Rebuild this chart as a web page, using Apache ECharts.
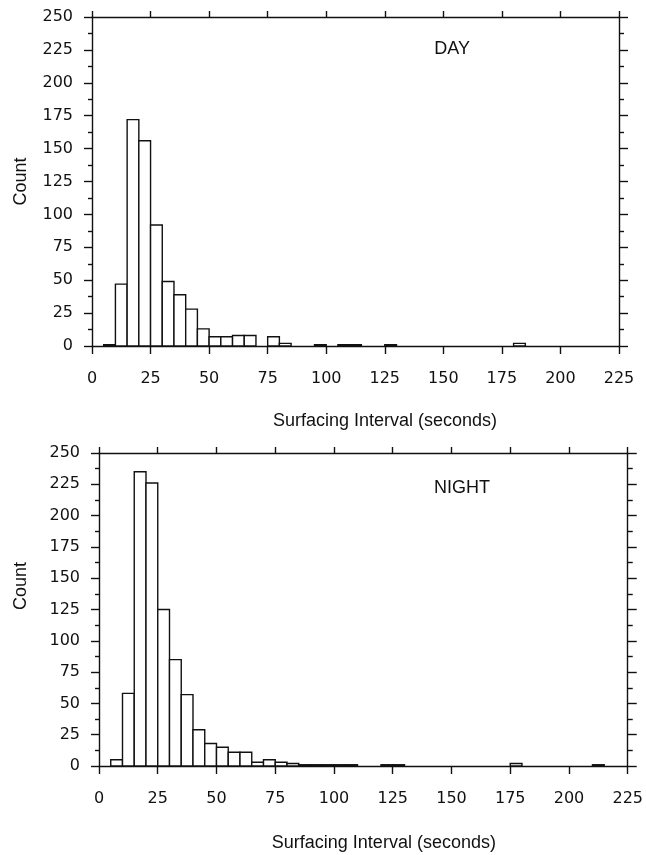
<!DOCTYPE html>
<html>
<head>
<meta charset="utf-8">
<script src="https://cdn.jsdelivr.net/npm/echarts@6/dist/echarts.min.js"></script>
<style>
  html, body { margin: 0; padding: 0; background: #fff; }
  #chart { width: 646px; height: 855px; }
</style>
</head>
<body>
<div id="chart"></div>
<script>
// Histogram bins are 5 seconds wide; each array entry is the left edge of a bin.
const binWidth = 5;

// Daytime surfacing intervals
const dayBinStarts = [5, 10, 15, 20, 25, 30, 35, 40, 45, 50, 55, 60, 65, 75, 80, 95, 105, 110, 125, 180];
const dayCounts    = [1, 47, 172, 156, 92, 49, 39, 28, 13, 7, 7, 8, 8, 7, 2, 1, 1, 1, 1, 2];

// Night-time surfacing intervals
const nightBinStarts = [5, 10, 15, 20, 25, 30, 35, 40, 45, 50, 55, 60, 65, 70, 75, 80, 85, 90, 95, 100, 105, 120, 125, 175, 210];
const nightCounts    = [5, 58, 235, 226, 125, 85, 57, 29, 18, 15, 11, 11, 3, 5, 3, 2, 1, 1, 1, 1, 1, 1, 1, 2, 1];

// Axis ranges and text
const xRange = [0, 225];
const xStep = 25;
const yRange = [0, 250];
const yStep = 25;
const xAxisName = 'Surfacing Interval (seconds)';
const yAxisName = 'Count';
const panelLabels = ['DAY', 'NIGHT'];

const FONT = '"Liberation Sans", Arial, Helvetica, sans-serif';
const TICK_FONT = '"DejaVu Sans", "Liberation Sans", Arial, sans-serif';
const INK = '#111';
const line = { color: INK, width: 1.4 };

function histogramSeries(starts, counts, axisIndex) {
  return {
    type: 'custom',
    xAxisIndex: axisIndex * 2,
    yAxisIndex: axisIndex * 2,
    data: starts.map((s, i) => [s, s + binWidth, counts[i]]),
    encode: { x: [0, 1], y: 2 },
    renderItem(params, api) {
      const topLeft = api.coord([api.value(0), api.value(2)]);
      const bottomRight = api.coord([api.value(1), 0]);
      return {
        type: 'rect',
        shape: {
          x: topLeft[0],
          y: topLeft[1],
          width: bottomRight[0] - topLeft[0],
          height: bottomRight[1] - topLeft[1]
        },
        style: { fill: '#fff', stroke: INK, lineWidth: 1.4 }
      };
    }
  };
}

function xAxesFor(gridIndex, nameGap, namePad) {
  const common = {
    type: 'value', gridIndex,
    min: xRange[0], max: xRange[1], interval: xStep,
    axisLine: { show: true, onZero: false, lineStyle: line },
    splitLine: { show: false }
  };
  return [
    Object.assign({}, common, {
      position: 'bottom',
      axisTick: { show: true, length: 8, lineStyle: line },
      axisLabel: { margin: 25, fontSize: 16, fontFamily: TICK_FONT, color: INK },
      name: xAxisName,
      nameLocation: 'middle',
      nameGap,
      nameTextStyle: { fontSize: 18, fontFamily: FONT, color: INK, padding: [0, 0, 0, namePad] }
    }),
    Object.assign({}, common, {
      position: 'top',
      axisTick: { show: true, length: 6, lineStyle: line },
      axisLabel: { show: false }
    })
  ];
}

function yAxesFor(gridIndex, nameGap, namePad) {
  const common = {
    type: 'value', gridIndex,
    min: yRange[0], max: yRange[1], interval: yStep,
    axisLine: { show: true, onZero: false, lineStyle: line },
    splitLine: { show: false },
    minorSplitLine: { show: false }
  };
  return [
    Object.assign({}, common, {
      position: 'left',
      axisTick: { show: true, length: 8, lineStyle: line },
      minorTick: { show: true, splitNumber: 2, length: 4, lineStyle: line },
      axisLabel: { margin: 19, fontSize: 16, fontFamily: TICK_FONT, color: INK },
      name: yAxisName,
      nameLocation: 'middle',
      nameGap,
      nameTextStyle: { fontSize: 18, fontFamily: FONT, color: INK, padding: [0, 0, 0, namePad] }
    }),
    Object.assign({}, common, {
      position: 'right',
      axisTick: { show: true, length: 9, lineStyle: line },
      minorTick: { show: true, splitNumber: 2, length: 5, lineStyle: line },
      axisLabel: { show: false }
    })
  ];
}

const chart = echarts.init(document.getElementById('chart'), null, { renderer: 'canvas' });

chart.setOption({
  animation: false,
  backgroundColor: '#fff',
  title: [
    {
      text: panelLabels[0], right: 176, top: 40, padding: 0,
      textStyle: { fontSize: 18, fontWeight: 'normal', fontFamily: FONT, color: INK }
    },
    {
      text: panelLabels[1], right: 156, top: 479, padding: 0,
      textStyle: { fontSize: 18, fontWeight: 'normal', fontFamily: FONT, color: INK }
    }
  ],
  grid: [
    { left: 92, top: 17, width: 527, height: 329 },
    { left: 99, top: 453, width: 531, height: 313 }
  ],
  xAxis: [].concat(xAxesFor(0, 66, 59), xAxesFor(1, 68, 41)),
  yAxis: [].concat(yAxesFor(0, 62, 0), yAxesFor(1, 69, 47)),
  series: [
    histogramSeries(dayBinStarts, dayCounts, 0),
    histogramSeries(nightBinStarts, nightCounts, 1)
  ]
});
</script>
</body>
</html>
